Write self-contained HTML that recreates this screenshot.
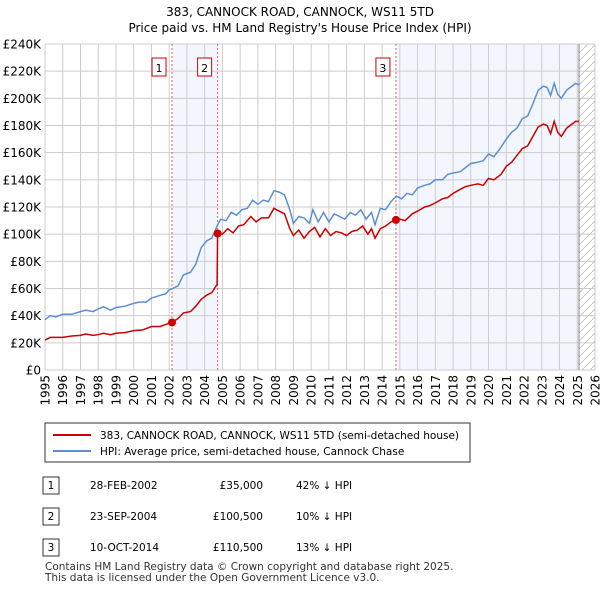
<!DOCTYPE html>
<html><head><meta charset="utf-8"><style>
body{margin:0;background:#fff;font-family:"DejaVu Sans",sans-serif;}
</style></head><body>
<svg id="c" width="600" height="590" xmlns="http://www.w3.org/2000/svg" font-family="DejaVu Sans, sans-serif">
<text x="300" y="16" text-anchor="middle" font-size="12">383, CANNOCK ROAD, CANNOCK, WS11 5TD</text>
<text x="300" y="32" text-anchor="middle" font-size="12">Price paid vs. HM Land Registry's House Price Index (HPI)</text>
<defs><pattern id="h" width="8" height="8" patternUnits="userSpaceOnUse"><path d="M0 8 L8 0" stroke="#bbb" stroke-width="0.8"/></pattern></defs>
<g id="plot"></g>
<g>
<rect x="45" y="423" width="425" height="39" fill="#fff" stroke="#333"/>
<line x1="53" y1="435" x2="91" y2="435" stroke="#cc0000" stroke-width="2"/>
<text x="100" y="439" font-size="10.5">383, CANNOCK ROAD, CANNOCK, WS11 5TD (semi-detached house)</text>
<line x1="53" y1="451" x2="91" y2="451" stroke="#5b8fd4" stroke-width="2"/>
<text x="100" y="455" font-size="10.5">HPI: Average price, semi-detached house, Cannock Chase</text>
</g>
<g font-size="10.5">
<rect x="43" y="477" width="16" height="17" fill="#fff" stroke="#333"/><text x="51" y="489" text-anchor="middle">1</text>
<text x="90" y="489">28-FEB-2002</text><text x="263" y="489" text-anchor="end">£35,000</text><text x="296" y="489">42% ↓ HPI</text>
<rect x="43" y="508" width="16" height="17" fill="#fff" stroke="#333"/><text x="51" y="520" text-anchor="middle">2</text>
<text x="90" y="520">23-SEP-2004</text><text x="263" y="520" text-anchor="end">£100,500</text><text x="296" y="520">10% ↓ HPI</text>
<rect x="43" y="539" width="16" height="17" fill="#fff" stroke="#333"/><text x="51" y="551" text-anchor="middle">3</text>
<text x="90" y="551">10-OCT-2014</text><text x="263" y="551" text-anchor="end">£110,500</text><text x="296" y="551">13% ↓ HPI</text>
</g>
<text x="45" y="570" font-size="10.5" fill="#333">Contains HM Land Registry data © Crown copyright and database right 2025.</text>
<text x="45" y="581" font-size="10.5" fill="#333">This data is licensed under the Open Government Licence v3.0.</text>
</svg>
<script>
const hpiYears=[1995.0,1995.3,1995.6,1996.0,1996.5,1997.0,1997.3,1997.7,1998.0,1998.3,1998.7,1999.0,1999.5,2000.0,2000.3,2000.7,2001.0,2001.5,2001.8,2002.0,2002.2,2002.5,2002.8,2003.2,2003.5,2003.8,2004.1,2004.4,2004.7,2004.9,2005.2,2005.5,2005.8,2006.1,2006.4,2006.7,2007.0,2007.3,2007.6,2007.9,2008.2,2008.5,2008.8,2009.0,2009.3,2009.6,2009.9,2010.1,2010.4,2010.7,2011.0,2011.3,2011.6,2011.9,2012.2,2012.5,2012.8,2013.1,2013.4,2013.6,2013.9,2014.2,2014.5,2014.8,2015.1,2015.4,2015.7,2016.0,2016.4,2016.7,2017.0,2017.4,2017.7,2018.0,2018.4,2018.7,2019.0,2019.4,2019.7,2020.0,2020.3,2020.7,2021.0,2021.3,2021.6,2021.9,2022.2,2022.5,2022.8,2023.1,2023.3,2023.5,2023.7,2023.9,2024.1,2024.4,2024.7,2024.9,2025.1];
const hpiValues=[37,40,39,41,41,43,44,43,45,46.5,44,46,47,49,50,50,53,55,56,59,60,62,70,72,78,90,95,97,106,111,110,116,114,118,119,125,122,125,124,132,131,129,118,108,113,112,108,118,109,116,109,115,113,111,116,114,118,111,116,107,119,118,124,128,126,130,129,134,136,137,140,140,144,145,146,149,152,153,154,159,157,164,170,175,178,185,187,196,206,209,208,202,211,203,200,206,209,211,210];
const priceYears=[1995.0,1995.3,1996.0,1996.5,1997.0,1997.3,1997.7,1998.0,1998.3,1998.7,1999.0,1999.5,2000.0,2000.5,2001.0,2001.5,2001.9,2002.16,2002.5,2002.8,2003.2,2003.5,2003.8,2004.1,2004.4,2004.7,2004.73,2005.0,2005.3,2005.6,2005.9,2006.2,2006.6,2006.9,2007.2,2007.6,2007.9,2008.2,2008.5,2008.8,2009.0,2009.3,2009.6,2009.9,2010.2,2010.5,2010.8,2011.1,2011.4,2011.7,2012.0,2012.3,2012.6,2012.9,2013.2,2013.4,2013.6,2013.9,2014.2,2014.5,2014.78,2015.0,2015.3,2015.7,2016.0,2016.4,2016.7,2017.0,2017.4,2017.7,2018.0,2018.4,2018.7,2019.0,2019.4,2019.7,2020.0,2020.3,2020.7,2021.0,2021.3,2021.6,2021.9,2022.2,2022.5,2022.8,2023.1,2023.3,2023.5,2023.7,2023.9,2024.1,2024.4,2024.7,2024.9,2025.1];
const priceValues=[22,24,24,25,25.5,26.5,25.5,26,27,26,27,27.5,29,29.5,32,32,34,35,38,42,43,47,52,55,57,63,100.5,100,104,101,106,107,113,109,112,112,119,117,115,104,99,103,97,102,105,98,104,99,102,101,99,102,103,106,100,104,97,104,106,109,110.5,111,110,115,117,120,121,123,126,127,130,133,135,136,137,136,141,140,144,150,153,158,163,165,172,179,181,180,174,183,175,172,178,181,183,183];
const saleYears=[2002.16,2004.73,2014.78];
const saleValues=[35,100.5,110.5];
const saleLabels=["1","2","3"];
const yTicks=[0,20,40,60,80,100,120,140,160,180,200,220,240];
const xTicks=[1995,1996,1997,1998,1999,2000,2001,2002,2003,2004,2005,2006,2007,2008,2009,2010,2011,2012,2013,2014,2015,2016,2017,2018,2019,2020,2021,2022,2023,2024,2025,2026];
const hatchStart=2025.1;

const X0=45,X1=595,Y0=370,Y1=44;
const x=v=>X0+(v-1995)/(2026-1995)*(X1-X0);
const y=v=>Y0-v/240*(Y0-Y1);
const NS="http://www.w3.org/2000/svg";
const g=document.getElementById('plot');
function mk(t,a,p){const e=document.createElementNS(NS,t);for(const k in a)e.setAttribute(k,a[k]);(p||g).appendChild(e);return e;}
let r=mk('rect',{x:x(saleYears[0]),y:Y1,width:x(saleYears[1])-x(saleYears[0]),height:Y0-Y1,fill:'#eef3fc',opacity:0.7});


r=mk('rect',{x:x(saleYears[2]),y:Y1,width:x(hatchStart)-x(saleYears[2]),height:Y0-Y1,fill:'#eef3fc',opacity:0.7});


r=mk('rect',{x:x(hatchStart),y:Y1,width:X1-x(hatchStart),height:Y0-Y1,fill:'url(#h)'});


xTicks.forEach(t=>{let l=mk('line',{x1:x(t),x2:x(t),y1:Y1,y2:Y0,stroke:'#ccc'});


const tx0=x(t)+4.5,ty0=Y0+5;
let tx=mk('text',{x:tx0,y:ty0,'text-anchor':'end','font-size':12,transform:'rotate(-90 '+tx0+' '+ty0+')'});tx.textContent=t;

});
yTicks.forEach(t=>{let l=mk('line',{x1:X0,x2:X1,y1:y(t),y2:y(t),stroke:'#ccc'});


let tx=mk('text',{x:X0-4,y:y(t)+4.5,'text-anchor':'end','font-size':12});tx.textContent=t===0?'£0':'£'+t+'K';

});
let ed=mk('line',{x1:x(hatchStart),x2:x(hatchStart),y1:Y1,y2:Y0,stroke:'#888'});


saleYears.forEach((s,i)=>{let l=mk('line',{x1:x(s),x2:x(s),y1:Y1,y2:Y0,stroke:'#e06060','stroke-dasharray':'2,2'});


let b=mk('rect',{x:x(s)-20,y:58,width:14,height:18,fill:'#fff',stroke:'#cc0000'});


let t=mk('text',{x:x(s)-13,y:72,'text-anchor':'middle','font-size':11});t.textContent=saleLabels[i];

});
const pts=(xs,vs)=>xs.map((v,i)=>x(v).toFixed(1)+','+y(vs[i]).toFixed(1)).join(' ');
let hl=mk('polyline',{points:pts(hpiYears,hpiValues),fill:'none',stroke:'#5b8fd4','stroke-width':1.5});


let pl=mk('polyline',{points:pts(priceYears,priceValues),fill:'none',stroke:'#cc0000','stroke-width':1.5});


saleYears.forEach((s,i)=>{let c=mk('circle',{cx:x(s),cy:y(saleValues[i]),r:4,fill:'#cc0000'});

});
</script>
</body></html>
